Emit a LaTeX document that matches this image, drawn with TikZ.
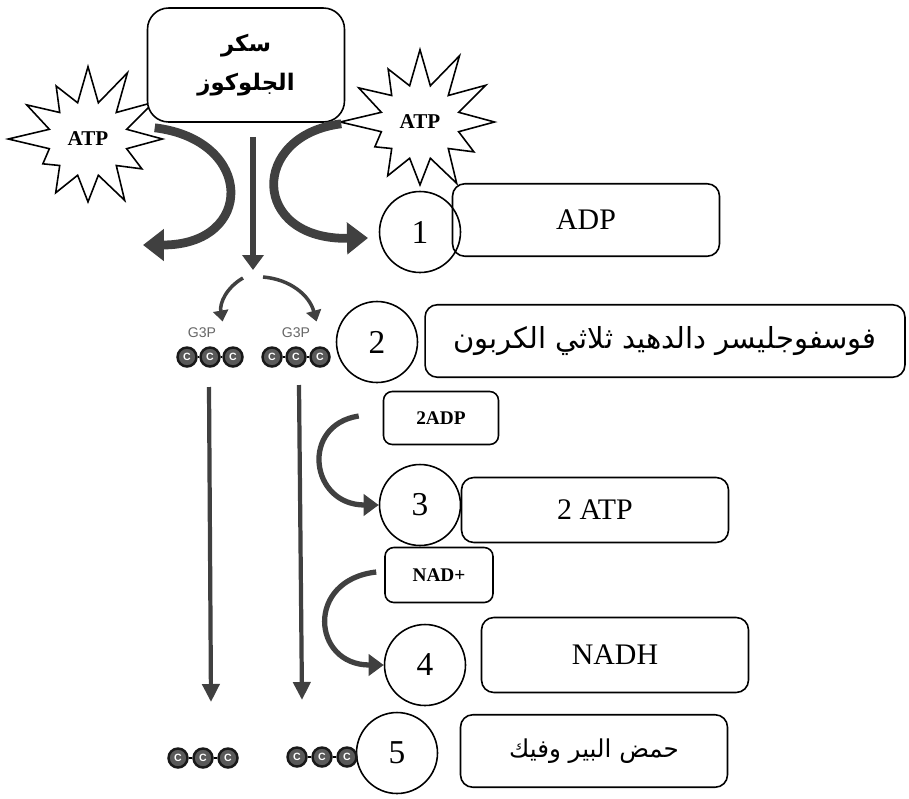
\documentclass[tikz,border=0pt]{standalone}
\usepackage{fontspec}
\setmainfont{Liberation Serif}
\newfontfamily\arabicfont[Script=Arabic]{DejaVu Sans}
\newfontfamily\labelfont{Liberation Sans}
\TeXXeTstate=1
\usetikzlibrary{arrows.meta,shapes.symbols,positioning,calc}
\tikzset{every picture/.style={line width=0.75pt}}
\tikzset{
  infobox/.style={draw, rounded corners=7pt, line width=0.9pt, minimum width=5.34cm,
    minimum height=1.45cm, inner sep=0pt, font=\fontsize{17}{19}\selectfont},
  smallbox/.style={draw, rounded corners=5pt, line width=0.9pt, minimum width=2.3cm,
    minimum height=1.06cm, inner sep=0pt, font=\fontsize{11}{13}\selectfont\bfseries},
  stepnum/.style={draw, circle, minimum size=1.62cm, inner sep=0pt, line width=0.9pt,
    font=\fontsize{19}{21}\selectfont},
  burst/.style={starburst, draw, fill=white, line width=0.9pt, starburst points=12,
    starburst point height=0.85cm, random starburst=37, minimum width=3.3cm,
    minimum height=3.2cm, inner sep=0pt, font=\fontsize{12}{14}\selectfont\bfseries},
  carbon/.style={circle, draw=black!90, fill=black!65, line width=1.4pt, minimum size=0.38cm,
    inner sep=0pt, text=white, font=\fontsize{6}{6}\selectfont\labelfont\bfseries},
  g3plabel/.style={text=black!60, font=\fontsize{8}{9}\selectfont\labelfont},
  bigflow/.style={draw=black!75, line width=5pt, -{Triangle[length=0.42cm,width=0.62cm]}},
  midflow/.style={draw=black!75, line width=3pt, -{Triangle[length=0.3cm,width=0.42cm]}},
  smallflow/.style={draw=black!75, line width=2pt, -{Triangle[length=0.22cm,width=0.3cm]}},
  longflow/.style={draw=black!75, line width=2.4pt, -{Triangle[length=0.36cm,width=0.34cm]}}
}

\begin{document}
\begin{tikzpicture}[x=0.02cm, y=-0.02cm]
    \useasboundingbox (0,0) rectangle (909,798);

    % ATP bursts (drawn first, box sits over them)
    \node[burst] (atpL) at (88,139) {ATP};
    \node[burst] (atpR) at (420,122) {ATP};

    % glucose box
    \node[draw, fill=white, rounded corners=12pt, line width=0.9pt, minimum width=3.94cm,
      minimum height=2.28cm, align=center, font=\fontsize{13}{22}\selectfont\arabicfont\bfseries]
      (glucose) at (246,65) {\beginR سكر\endR\\\beginR الجلوكوز\endR};

    % step circles and their boxes
    \node[stepnum] (c1) at (420,232) {1};
    \node[stepnum] (c2) at (377,342) {2};
    \node[stepnum] (c3) at (420,505) {3};
    \node[stepnum] (c4) at (425,665) {4};
    \node[stepnum] (c5) at (397,753) {5};

    \node[infobox] (adp) at (586,220) {ADP};
    \node[infobox, minimum width=9.6cm, font=\fontsize{16.5}{18}\selectfont\arabicfont]
      (pgal) at (665,341) {\beginR فوسفوجليسر دالدهيد ثلاثي الكربون\endR};
    \node[infobox, minimum height=1.3cm] (atp2) at (595,510) {2 ATP};
    \node[infobox, minimum height=1.5cm] (nadh) at (615,655) {NADH};
    \node[infobox, font=\fontsize{14}{16}\selectfont\arabicfont]
      (pyr) at (594,751) {\beginR حمض البير وفيك\endR};

    \node[smallbox] (adp2) at (441,418) {2ADP};
    \node[smallbox, minimum width=2.16cm, minimum height=1.1cm] (nad) at (439,575) {NAD+};

    % carbon chains
    \foreach \n/\x/\y in {tl1/187/357, tl2/210/357, tl3/233/357,
                          tr1/272/357, tr2/296/357, tr3/320/357,
                          bl1/178/758, bl2/203/758, bl3/228/758,
                          br1/297/757, br2/322/757, br3/347/757}
      \node[carbon] (\n) at (\x,\y) {C};
    \foreach \a/\b in {tl1/tl2, tl2/tl3, tr1/tr2, tr2/tr3, bl1/bl2, bl2/bl3, br1/br2, br2/br3}
      \draw[line width=1pt] (\a) -- (\b);

    \node[g3plabel] (g3pL) at (202,333) {G3P};
    \node[g3plabel] (g3pR) at (296,333) {G3P};

    % split of glucose
    \coordinate (gdown) at (253,270);
    \coordinate (splitL) at (243,278);
    \coordinate (splitR) at (263,277);
    \coordinate (lout) at (143,245);
    \coordinate (rout) at (368,238);
    \draw[bigflow] ($(glucose.south west)+(8,5)$) .. controls (255,140) and (255,245) .. (lout);
    \draw[bigflow] ($(glucose.south east)+(-4,1)$) .. controls (250,135) and (250,240) .. (rout);
    \draw[midflow] ($(glucose.south)+(7,14)$) -- (gdown);
    \draw[smallflow] (splitL) to[bend right=35] (g3pL.north east);
    \draw[smallflow] (splitR) to[bend left=35] (g3pR.north east);

    % down to pyruvate
    \coordinate (lt) at (209,387);
    \coordinate (lb) at (211,702);
    \coordinate (rt) at (299,385);
    \coordinate (rb) at (302,700);
    \draw[longflow] (lt) -- (lb);
    \draw[longflow] (rt) -- (rb);

    % energy carriers
    \draw[midflow] ($(adp2.west)+(-24,-2)$) .. controls (300,425) and (310,505) .. (c3.west);
    \draw[midflow] ($(nad.west)+(-8,-3)$) .. controls (305,580) and (312,665) .. (c4.west);
\end{tikzpicture}
\end{document}
